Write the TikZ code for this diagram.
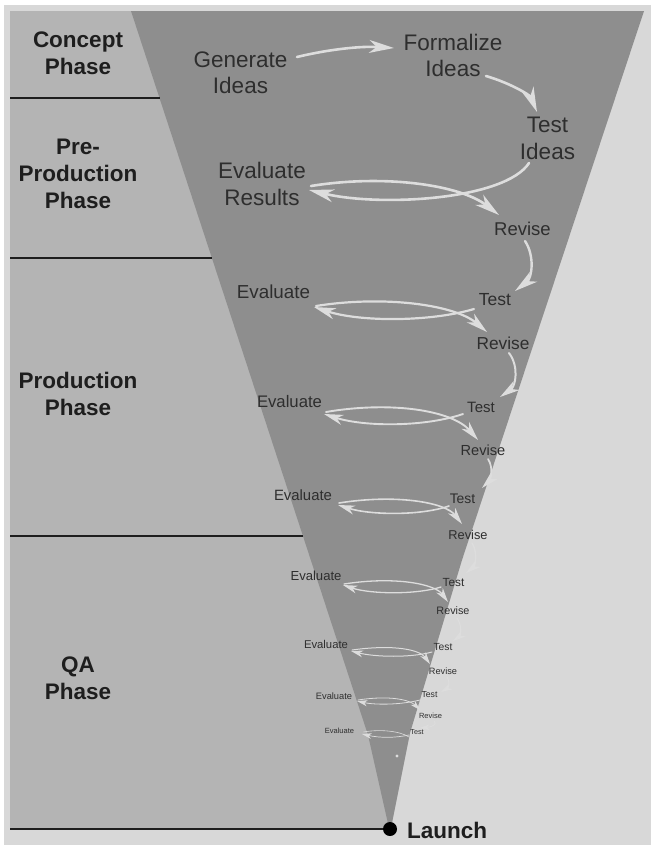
\documentclass[tikz,border=0pt]{standalone}
\usepackage{fontspec}
\setmainfont{Liberation Sans}
\usetikzlibrary{arrows.meta,calc}
\definecolor{bgc}{HTML}{D8D8D8}
\definecolor{panelc}{HTML}{B4B4B4}
\definecolor{funnelc}{HTML}{8E8E8E}
\definecolor{arrowc}{HTML}{DDDDDD}
\definecolor{txtc}{HTML}{2E2E2E}
\definecolor{phasec}{HTML}{1E1E1E}
\begin{document}
\begin{tikzpicture}[x=1pt,y=-1pt,
  phase/.style={font=\bfseries\fontsize{22.5}{27}\selectfont, text=phasec, align=center, inner sep=0pt},
  big/.style={font=\fontsize{22.5}{26.5}\selectfont, text=txtc, align=center, inner sep=0pt},
  lbl/.style={font=\fontsize{#1}{#1}\selectfont, text=txtc, inner sep=0pt},
  flow/.style={draw=arrowc, line width=#1, line cap=round, -{Stealth[length=4pt 8, width=3pt 3.8, inset=1pt 2.5]}},
  sep/.style={draw=phasec, line width=2.6pt}
]
\useasboundingbox (0,0) rectangle (657,849);
\fill[white] (0,0) rectangle (657,849);
\fill[bgc] (4,5) rectangle (651,845);
\fill[panelc] (10,11) rectangle (390,829);
\fill[funnelc] (131,11) -- (644,11) -- (462,560) -- (410,733) -- (391,828) -- (389,828) -- (368,735) -- (310.8,560) -- cycle;

% phase separators
\draw[sep] (10,98) -- (159.5,98);
\draw[sep] (10,258) -- (212,258);
\draw[sep] (10,536) -- (303,536);

% phase labels
\node[phase] (concept) at (78,53.5) {Concept\\Phase};
\node[phase] (preprod) at (78,174) {Pre-\\Production\\Phase};
\node[phase] (prod) at (78,393.5) {Production\\Phase};
\node[phase] (qa) at (78,678.5) {QA\\Phase};

% launch
\node[circle, fill=black, inner sep=0pt, minimum size=14pt] (dot) at (390,829) {};
\draw[sep] (10,829) -- (dot);
\node[phase, anchor=west] (launch) at (407,830) {Launch};

% funnel labels
\node[big] (gen) at (240.5,73) {Generate\\Ideas};
\node[big] (form) at (453,55.5) {Formalize\\Ideas};
\node[big] (testI) at (547.5,138.5) {Test\\Ideas};
\node[big] (evalR) at (262,184) {Evaluate\\Results};
\node[lbl=18.5] (rev0) at (522.5,229) {Revise};

\node[lbl=18.8] (ev1) at (273.5,292) {Evaluate};
\node[lbl=17.5] (t1) at (495,300) {Test};
\node[lbl=17.3] (r1) at (503,343) {Revise};
\node[lbl=16.7] (ev2) at (289.5,402) {Evaluate};
\node[lbl=15] (t2) at (481,407) {Test};
\node[lbl=14.6] (r2) at (483,450) {Revise};
\node[lbl=14.9] (ev3) at (303,495) {Evaluate};
\node[lbl=13.9] (t3) at (462.5,499) {Test};
\node[lbl=12.8] (r3) at (468,535) {Revise};
\node[lbl=13.1] (ev4) at (316,576) {Evaluate};
\node[lbl=11.8] (t4) at (453.5,582) {Test};
\node[lbl=10.8] (r4) at (453,611) {Revise};
\node[lbl=11.3] (ev5) at (326,644) {Evaluate};
\node[lbl=10.3] (t5) at (443,647) {Test};
\node[lbl=9.2] (r5) at (443,671) {Revise};
\node[lbl=9.3] (ev6) at (334,696) {Evaluate};
\node[lbl=8.7] (t6) at (429.5,695) {Test};
\node[lbl=7.5] (r6) at (430.5,716) {Revise};
\node[lbl=7.5] (ev7) at (339.5,731) {Evaluate};
\node[lbl=7.2] (t7) at (417,732) {Test};
\coordinate (tail) at (397,756);
\coordinate (upend) at (409,737);

% connectors
\draw[flow=2.6] ($(gen)+(56.5,-16)$) .. controls (330,49) and (362,46) .. ($(form)+(-59,-7.5)$);
\draw[flow=2.6] ($(form)+(33,20.5)$) .. controls (510,83) and (530,95) .. ($(testI)+(-10.5,-26.5)$);
\draw[flow=2.6] ($(testI)+(-18.5,24.5)$) .. controls (505,200) and (380,207) .. ($(evalR)+(47,6)$);
\draw[flow=2.6] ($(evalR)+(49,2)$) .. controls (385,174) and (460,185) .. ($(rev0)+(-23.5,-14)$);
\draw[flow=2.4] ($(rev0)+(2.5,12)$) .. controls (535,256) and (532,278) .. ($(t1)+(20,-9)$);
\draw[flow=2.2] ($(t1)+(-21,9)$) .. controls (430,322) and (360,322) .. ($(ev1)+(40.5,15)$);
\draw[flow=2.2] ($(ev1)+(42.5,14)$) .. controls (385,295) and (455,305) .. ($(r1)+(-16,-11)$);
\draw[flow=2.0] ($(r1)+(6,10)$) .. controls (519,366) and (516,386) .. ($(t2)+(19,-10)$);
\draw[flow=1.9] ($(t2)+(-18,7)$) .. controls (425,427) and (365,427) .. ($(ev2)+(34.5,12)$);
\draw[flow=1.9] ($(ev2)+(36.5,10)$) .. controls (390,401) and (452,410) .. ($(r2)+(-5,-10)$);
\draw[flow=1.7] ($(r2)+(5,9)$) .. controls (494,468) and (490,480) .. ($(t3)+(19.5,-11)$);
\draw[flow=1.6] ($(t3)+(-13.5,7)$) .. controls (420,516) and (370,515) .. ($(ev3)+(35,10)$);
\draw[flow=1.6] ($(ev3)+(36,8)$) .. controls (395,494) and (445,502) .. ($(r3)+(-6,-11)$);
\draw[flow=1.4] ($(r3)+(4,8)$) .. controls (478,552) and (475,566) .. ($(t4)+(12.5,-9)$);
\draw[flow=1.3] ($(t4)+(-12.5,5)$) .. controls (415,595) and (370,594) .. ($(ev4)+(27,9)$);
\draw[flow=1.3] ($(ev4)+(28,8)$) .. controls (395,576) and (435,584) .. ($(r4)+(-5,-9)$);
\draw[flow=1.1] ($(r4)+(4,7)$) .. controls (463,627) and (460,636) .. ($(t5)+(10,-6)$);
\draw[flow=1.0] ($(t5)+(-11,5)$) .. controls (410,658) and (375,657) .. ($(ev5)+(25,7)$);
\draw[flow=1.0] ($(ev5)+(26,6)$) .. controls (395,644) and (420,650) .. ($(r5)+(-13,-7)$);
\draw[flow=0.9] ($(r5)+(4,6)$) .. controls (451,684) and (448,688) .. ($(t6)+(11.5,-3)$);
\draw[flow=0.8] ($(t6)+(-9.5,5)$) .. controls (400,705) and (375,705) .. ($(ev6)+(23,5)$);
\draw[flow=0.8] ($(ev6)+(24,4)$) .. controls (390,695) and (410,700) .. ($(r6)+(-10.5,-6)$);
\draw[flow=0.7] ($(r6)+(3.5,5)$) .. controls (438,724) and (432,727) .. ($(t7)+(3,-4)$);
\draw[flow=0.7] ($(t7)+(-8,3)$) .. controls (395,738) and (380,738) .. ($(ev7)+(22.5,3)$);
\draw[draw=arrowc, line width=0.6pt] ($(ev7)+(24,1)$) .. controls (380,729) and (400,731) .. (upend);
\fill[arrowc] (tail) circle (1.6);
\end{tikzpicture}
\end{document}
